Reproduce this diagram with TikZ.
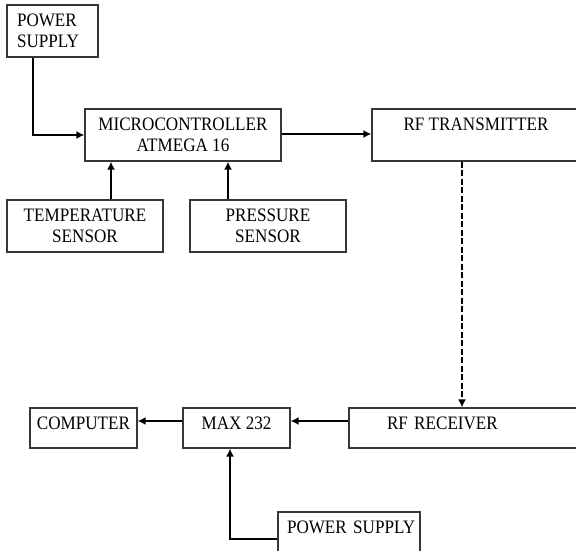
\documentclass[tikz,border=0pt]{standalone}
\usepackage{fontspec}
\setmainfont{Liberation Serif}[FakeStretch=0.9]
\usepackage{tikz}
\usetikzlibrary{arrows.meta,positioning}
\usepackage{xcolor}
\definecolor{bxline}{RGB}{55,55,55}
\tikzset{
    block/.style={
        draw=bxline,line width=1.2pt,align=center,
        font=\fontsize{19}{21.5}\selectfont
    },
    lowblock/.style={
        block,text height=13pt,text depth=10pt
    },
    arrow/.style={
        -{Latex[length=8pt,width=8pt]},line width=2.4pt,draw=black
    },
    wireless/.style={
        arrow,line width=2.4pt,dash pattern=on 6pt off 2.5pt
    }
}
\begin{document}
\begin{tikzpicture}[x=1pt,y=-1pt]
\useasboundingbox (0,0) rectangle (576,551);
\clip (0,0) rectangle (576,551);

\node[block,align=left,inner xsep=10pt,text width=71pt,minimum height=52pt]
(psup) at (52.5,31) {POWER\\SUPPLY};

\node[block,minimum width=196pt,minimum height=52pt]
(mcu) at (183,135) {MICROCONTROLLER\\ATMEGA 16};

\node[block,minimum width=156pt,minimum height=52pt]
(temp) at (85,226) {TEMPERATURE\\SENSOR};

\node[block,minimum width=156pt,minimum height=52pt]
(pres) at (268,226) {PRESSURE\\SENSOR};

\node[block,minimum width=208pt,minimum height=52pt]
(rftx) at (476,135) {RF TRANSMITTER\\~};

\node[lowblock,align=left,inner xsep=38pt,text width=155pt,minimum height=40pt]
(rfrx) at (464.5,428) {RF RECEIVER};

\node[lowblock,minimum width=107pt,minimum height=40pt]
(comp) at (83.5,428) {COMPUTER};

\node[lowblock,minimum width=107pt,minimum height=40pt]
(max) at (236.5,428) {MAX 232};

\node[block,align=left,inner xsep=9pt,text width=124pt,minimum height=48pt,
text height=13pt,text depth=18.4pt]
(psdn) at (349,536) {\mbox{POWER SUPPLY}};

\draw[arrow]([xshift=-19.5pt]psup.south)|-(mcu.west);
\draw[arrow]([xshift=26pt]temp.north)--([xshift=26pt]temp.north|-mcu.south);
\draw[arrow]([xshift=-40pt]pres.north)--([xshift=-40pt]pres.north|-mcu.south);
\draw[arrow]([yshift=1pt]mcu.east)--([yshift=1pt]rftx.west);
\draw[wireless]([xshift=-14pt]rftx.south)--([xshift=-14pt]rftx.south|-rfrx.north);
\draw[arrow]([yshift=7pt]rfrx.west)--([yshift=7pt]max.east);
\draw[arrow]([yshift=7pt]max.west)--([yshift=7pt]comp.east);
\draw[arrow]([yshift=-3pt]psdn.west)-|([xshift=-6.5pt]max.south);

\end{tikzpicture}
\end{document}
